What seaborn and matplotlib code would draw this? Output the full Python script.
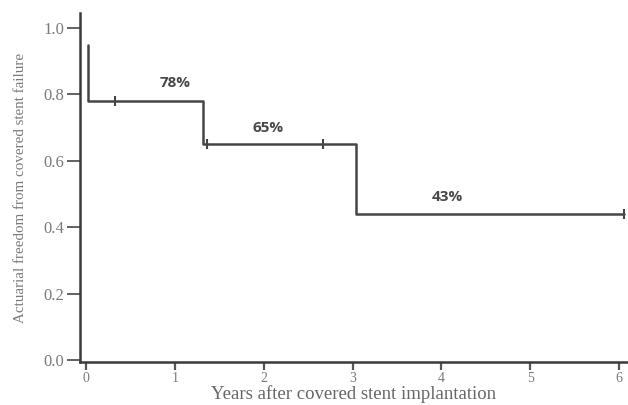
import matplotlib
matplotlib.use("Agg")
import matplotlib.pyplot as plt
import seaborn as sns
import pandas as pd

# Step curve (actuarial survival)
step_years = [0.02, 0.02, 1.31, 3.04, 6.05]
step_surv = [0.95, 0.78, 0.65, 0.44, 0.44]

# Censor marks
censor_years = [0.32, 1.36, 2.67, 6.05]
censor_surv = [0.78, 0.65, 0.65, 0.44]

# Annotations
label_text = ["78%", "65%", "43%"]
label_x = [1.0, 2.05, 4.07]
label_y = [0.835, 0.70, 0.49]

x_ticks = [0, 1, 2, 3, 4, 5, 6]
y_ticks = [0.0, 0.2, 0.4, 0.6, 0.8, 1.0]

sns.set_style("white")
plt.rcParams["font.family"] = ["Liberation Serif", "DejaVu Serif"]

fig = plt.figure(figsize=(6.28, 4.05), dpi=100)
ax = fig.add_axes([80 / 628, 43 / 405, 548 / 628, 349 / 405])

line_color = "#454545"
df = pd.DataFrame({"t": step_years, "s": step_surv})
sns.lineplot(data=df, x="t", y="s", ax=ax, estimator=None, sort=False,
             drawstyle="steps-post", color=line_color, linewidth=1.8)

cdf = pd.DataFrame({"t": censor_years, "s": censor_surv})
sns.scatterplot(data=cdf, x="t", y="s", ax=ax, marker="|", s=45,
                color=line_color, linewidth=1.5)

for txt, x, y in zip(label_text, label_x, label_y):
    ax.text(x, y, txt, ha="center", va="center", fontsize=11,
            fontweight="bold", color="#484848", family=["Open Sans", "DejaVu Sans"])

ax.set_xlim(-0.07, 6.1)
ax.set_ylim(-0.006, 1.045)
ax.set_xticks(x_ticks)
ax.set_xticklabels([str(v) for v in x_ticks])
ax.set_yticks(y_ticks)
ax.set_yticklabels([f"{v:.1f}" for v in y_ticks])

for side in ["top", "right"]:
    ax.spines[side].set_visible(False)
for side in ["left", "bottom"]:
    ax.spines[side].set_color("#3a3a3a")
    ax.spines[side].set_linewidth(1.8)

ax.tick_params(axis="y", direction="out", length=9.5, width=1.3, color="#555555",
               labelsize=12, labelcolor="#7a7a7a", pad=2, left=True)
ax.tick_params(axis="x", direction="out", length=6, width=1.6, color="#555555",
               labelsize=10, labelcolor="#7a7a7a", pad=1, bottom=True)

ax.set_xlabel("Years after covered stent implantation", fontsize=13.5,
              color="#666666")
ax.xaxis.set_label_coords(0.5, -0.067)
ax.set_ylabel("Actuarial freedom from covered stent failure", fontsize=10.8,
              color="#7a7a7a")
ax.yaxis.set_label_coords(-0.097, 0.5)

fig.savefig("out.png", dpi=100, facecolor="white")
